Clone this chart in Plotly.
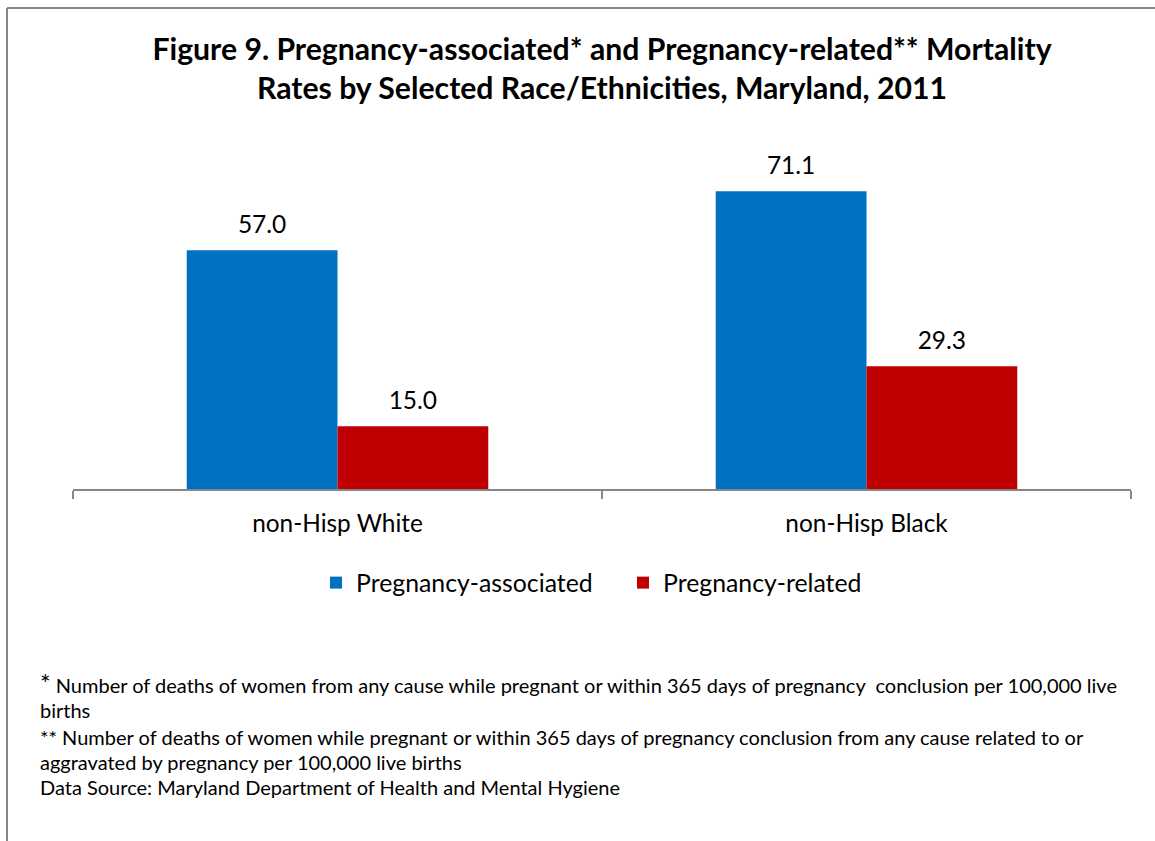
import plotly.graph_objects as go

categories = ["non-Hisp White", "non-Hisp Black"]
series_names = ["Pregnancy-associated", "Pregnancy-related"]
assoc_values = [57.0, 71.1]
related_values = [15.0, 29.3]
colors = ["#0070C0", "#C00000"]

title_text = ("<b>Figure 9. Pregnancy-associated* and Pregnancy-related** Mortality<br>"
              "Rates by Selected Race/Ethnicities, Maryland, 2011</b>")
footnotes = [
    "<span style='font-size:25px'>*</span> Number of deaths of women from any cause while pregnant or within 365 days of pregnancy  conclusion per 100,000 live",
    "births",
    "** Number of deaths of women while pregnant or within 365 days of pregnancy conclusion from any cause related to or",
    "aggravated by pregnancy per 100,000 live births",
    "Data Source: Maryland Department of Health and Mental Hygiene",
]

FONT = "Lato, 'Open Sans', sans-serif"
W, H = 1155, 841
L, R, T, B = 73, 24, 154, 352
pw, ph = W - L - R, H - T - B

def px_x(x):
    return (x - L) / pw

def px_y(y):
    return (H - B - y) / ph

fig = go.Figure()
for i, (name, vals, col) in enumerate(zip(series_names, [assoc_values, related_values], colors)):
    fig.add_trace(go.Bar(
        x=categories, y=vals, name=name, marker=dict(color=col, line=dict(width=0)),
        offsetgroup=str(i),
    ))
for i, vals in enumerate([assoc_values, related_values]):
    fig.add_trace(go.Scatter(
        x=categories, y=vals, mode="markers+text", offsetgroup=str(i),
        marker=dict(size=16, opacity=0), showlegend=False, hoverinfo="skip",
        text=[f"{v:.1f}" for v in vals], textposition="top center",
        textfont=dict(size=24.5, color="#000000", family=FONT), cliponaxis=False,
    ))

annotations = []
foot_y = [683, 710, 737, 762, 787]
for txt, y in zip(footnotes, foot_y):
    annotations.append(dict(
        text=txt, xref="paper", yref="paper", x=px_x(38), y=px_y(y),
        xanchor="left", yanchor="middle", showarrow=False, align="left",
        font=dict(size=20.0, color="#000000", family=FONT),
    ))

fig.update_layout(
    width=W, height=H,
    margin=dict(l=L, r=R, t=T, b=B, pad=0),
    paper_bgcolor="white", plot_bgcolor="white",
    barmode="group", bargap=0.43, bargroupgap=0,
    scattermode="group", scattergap=0.43,
    title=dict(text=title_text, x=0.5, xref="paper", xanchor="center",
               y=1 - 60 / H, yanchor="middle",
               font=dict(size=30.2, color="#000000", family=FONT)),
    font=dict(family=FONT, color="#000000"),
    xaxis=dict(showline=True, linecolor="#868686", linewidth=2,
               ticks="outside", tickson="boundaries", ticklen=8, tickwidth=2,
               tickcolor="#868686", tickfont=dict(size=24.4, family=FONT, color="#000000"),
               showgrid=False, ticklabelstandoff=12),
    yaxis=dict(range=[0, 80], visible=False, showgrid=False, zeroline=False),
    showlegend=True,
    legend=dict(orientation="h", x=px_x(316), xanchor="left", y=px_y(583), yanchor="middle",
                font=dict(size=24.8, family=FONT, color="#000000"), itemwidth=30,
                entrywidth=262, entrywidthmode="pixels",
                traceorder="normal", tracegroupgap=0),
    annotations=annotations,
    shapes=[
        dict(type="line", xref="paper", yref="paper",
             x0=px_x(7), x1=px_x(7), y0=px_y(8), y1=px_y(H + 10),
             line=dict(color="#868686", width=2)),
        dict(type="line", xref="paper", yref="paper",
             x0=px_x(7), x1=px_x(W + 10), y0=px_y(8), y1=px_y(8),
             line=dict(color="#868686", width=2)),
    ],
)

fig.write_html("out.html", config={"displayModeBar": False},
               post_script="document.body.style.margin='0';document.body.style.overflow='hidden';")
